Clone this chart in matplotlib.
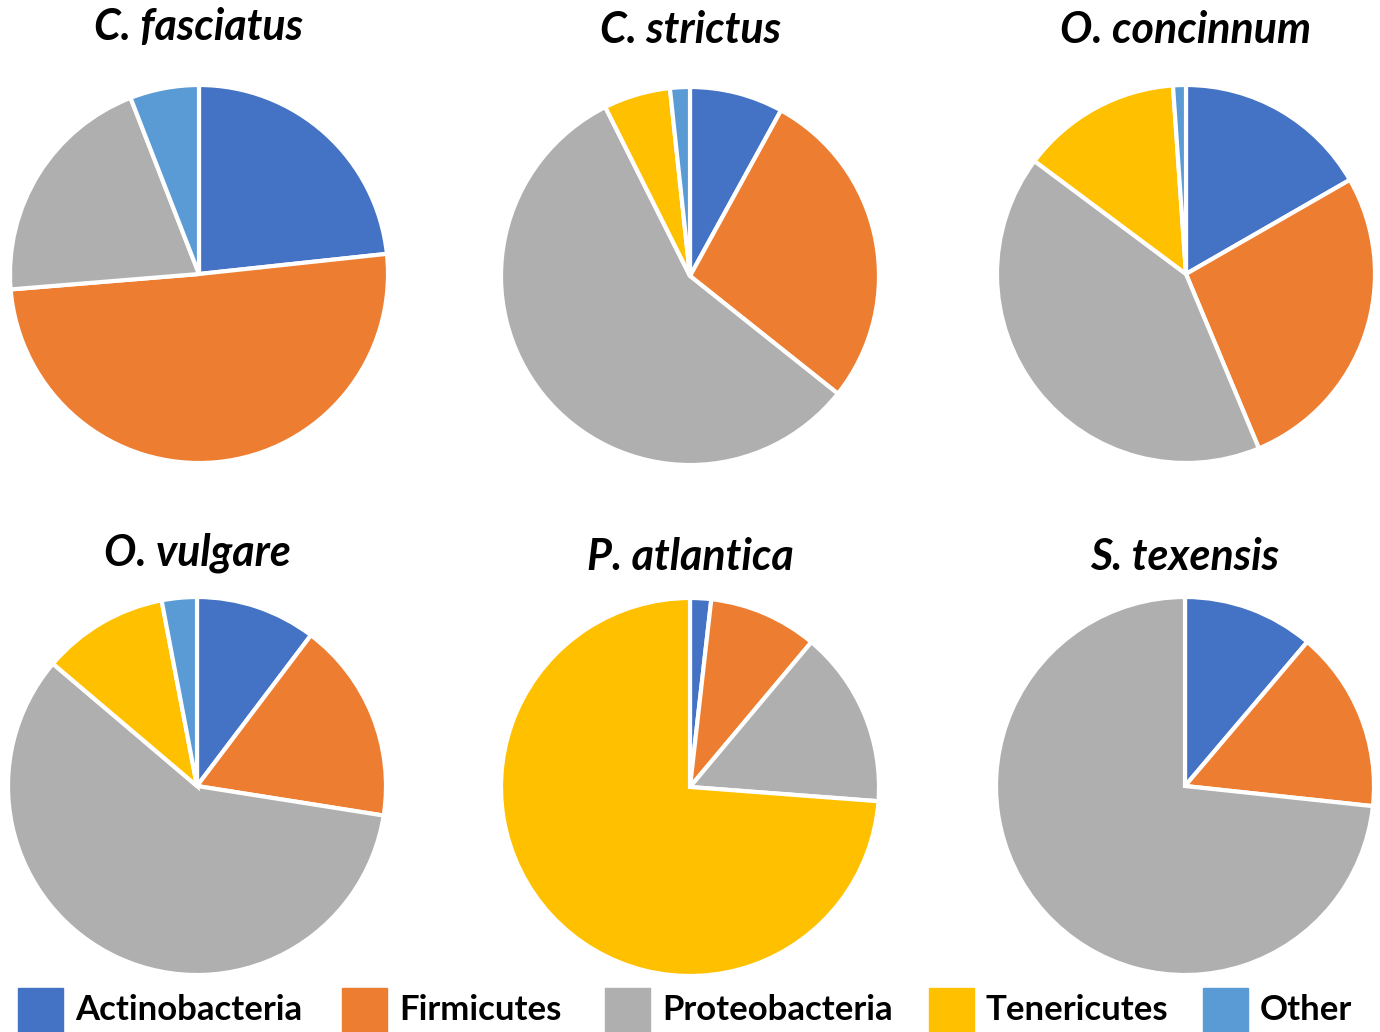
import matplotlib
matplotlib.use("Agg")
import matplotlib.pyplot as plt
from matplotlib.patches import Rectangle

# phylum composition (%) per species, clockwise from 12 o'clock
PHYLA = ["Actinobacteria", "Firmicutes", "Proteobacteria", "Tenericutes", "Other"]
COLORS = ["#4472C4", "#ED7D31", "#AFAFAF", "#FFC000", "#5B9BD5"]

SPECIES = ["C. fasciatus", "C. strictus", "O. concinnum",
           "O. vulgare", "P. atlantica", "S. texensis"]

c_fasciatus = [23.3, 50.4, 20.4, 0.0, 5.9]
c_strictus = [8.0, 27.7, 56.9, 5.7, 1.7]
o_concinnum = [16.7, 27.0, 41.5, 13.7, 1.1]
o_vulgare = [10.3, 17.2, 58.7, 10.8, 3.0]
p_atlantica = [1.8, 9.3, 15.1, 73.8, 0.0]
s_texensis = [11.2, 15.5, 73.3, 0.0, 0.0]

VALUES = [c_fasciatus, c_strictus, o_concinnum, o_vulgare, p_atlantica, s_texensis]

W, H = 1380, 1032
# pie centres / radius and title positions in pixels
CENTERS = [(199, 274), (690, 276), (1186, 274), (197, 786), (690, 787), (1185, 786)]
RADIUS = 189
TITLE_POS = [(198, 27), (690, 30), (1186, 30), (197, 553), (690, 557), (1185, 557)]

FONT = ["Lato", "DejaVu Sans"]

fig = plt.figure(figsize=(W / 100, H / 100), dpi=100, facecolor="white")

for name, vals, (cx, cy), (tx, ty) in zip(SPECIES, VALUES, CENTERS, TITLE_POS):
    ax = fig.add_axes([(cx - RADIUS) / W, 1 - (cy + RADIUS) / H,
                       2 * RADIUS / W, 2 * RADIUS / H])
    keep = [i for i, v in enumerate(vals) if v > 0]
    ax.pie([vals[i] for i in keep], colors=[COLORS[i] for i in keep],
           startangle=90, counterclock=False, radius=1.0,
           wedgeprops=dict(edgecolor="white", linewidth=3))
    ax.set_xlim(-1, 1)
    ax.set_ylim(-1, 1)
    ax.set_aspect("equal")
    ax.axis("off")
    fig.text(tx / W, 1 - ty / H, name, ha="center", va="center",
             fontsize=31, fontweight="bold", fontstyle="italic", family=FONT)

# legend along the bottom edge
LEG_BOX_X = [18, 342, 605, 929, 1203]
for x0, label, col in zip(LEG_BOX_X, PHYLA, COLORS):
    fig.patches.append(Rectangle((x0 / W, 0), 45 / W, 44 / H,
                                 transform=fig.transFigure, color=col))
    fig.text((x0 + 57) / W, 1 - 1010 / H, label, ha="left", va="center",
             fontsize=25, fontweight="bold", family=FONT)

fig.savefig("out.png", dpi=100, facecolor="white")
